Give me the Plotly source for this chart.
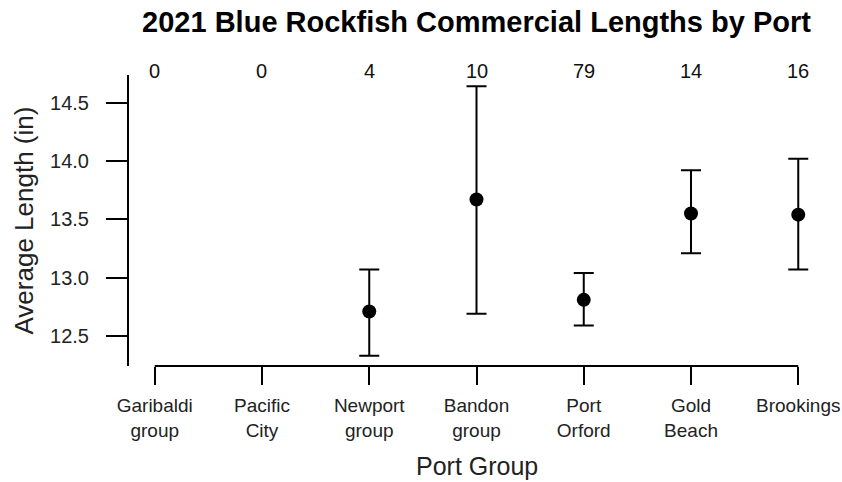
import plotly.graph_objects as go

# Data
ports = ["Garibaldi<br>group", "Pacific<br>City", "Newport<br>group", "Bandon<br>group",
         "Port<br>Orford", "Gold<br>Beach", "Brookings"]
counts = [0, 0, 4, 10, 79, 14, 16]
mean_len = [None, None, 12.71, 13.67, 12.81, 13.55, 13.54]
upper_ci = [None, None, 13.07, 14.64, 13.04, 13.92, 14.02]
lower_ci = [None, None, 12.33, 12.69, 12.59, 13.21, 13.07]
y_ticks = [12.5, 13.0, 13.5, 14.0, 14.5]

xpos = list(range(1, len(ports) + 1))
err_plus = [None if m is None else u - m for m, u in zip(mean_len, upper_ci)]
err_minus = [None if m is None else m - l for m, l in zip(mean_len, lower_ci)]

FONT = "Liberation Sans, Arial, Helvetica, sans-serif"
W, H = 842, 482

fig = go.Figure()
fig.add_trace(go.Scatter(
    x=xpos, y=mean_len, mode="markers",
    marker=dict(size=14, color="black", symbol="circle"),
    error_y=dict(type="data", symmetric=False, array=err_plus, arrayminus=err_minus,
                 color="black", thickness=2, width=10),
    showlegend=False, hoverinfo="skip",
))

# x axis line spanning first to last tick
fig.add_shape(type="line", xref="x", yref="paper", x0=xpos[0], x1=xpos[-1], y0=0, y1=0,
              line=dict(color="black", width=2))

# sample counts above plot
for xp, c in zip(xpos, counts):
    fig.add_annotation(x=xp, xref="x", y=1, yref="paper", text=str(c), showarrow=False,
                       yanchor="middle", yshift=4, font=dict(size=20, color="#111", family=FONT))

# axis titles
fig.add_annotation(x=0.5, xref="paper", y=0, yref="paper", yshift=-100, text="Port Group",
                   showarrow=False, yanchor="middle", font=dict(size=25, color="#222", family=FONT))
fig.add_annotation(x=0, xref="paper", xshift=-106, y=0.5, yref="paper", text="Average Length (in)",
                   showarrow=False, textangle=-90, xanchor="center",
                   font=dict(size=26, color="#222", family=FONT))

fig.update_layout(
    width=W, height=H,
    margin=dict(l=129, r=18, t=75, b=116, pad=0, autoexpand=False),
    paper_bgcolor="white", plot_bgcolor="white",
    font=dict(family=FONT, color="black"),
    title=dict(text="<b>2021 Blue Rockfish Commercial Lengths by Port</b>",
               x=0.5, xref="paper", y=1 - 22 / H, yref="container", yanchor="middle",
               font=dict(size=29, color="black", family=FONT)),
    xaxis=dict(range=[0.76, 7.24], tickvals=xpos, ticktext=ports, ticks="outside",
               ticklen=18, tickwidth=2, tickcolor="black", showline=False, showgrid=False,
               zeroline=False, ticklabelstandoff=4, automargin=False,
               tickfont=dict(size=19, color="#222", family=FONT)),
    yaxis=dict(range=[12.243, 14.737], tickvals=y_ticks, tickformat=".1f", ticks="outside",
               ticklen=21, tickwidth=2, tickcolor="black", showline=True, linewidth=2,
               linecolor="black", showgrid=False, zeroline=False, ticklabelstandoff=13,
               automargin=False, tickfont=dict(size=20, color="#222", family=FONT)),
)

fig.write_html("out.html", config={"displayModeBar": False, "staticPlot": True},
               post_script="document.body.style.margin='0px';")
